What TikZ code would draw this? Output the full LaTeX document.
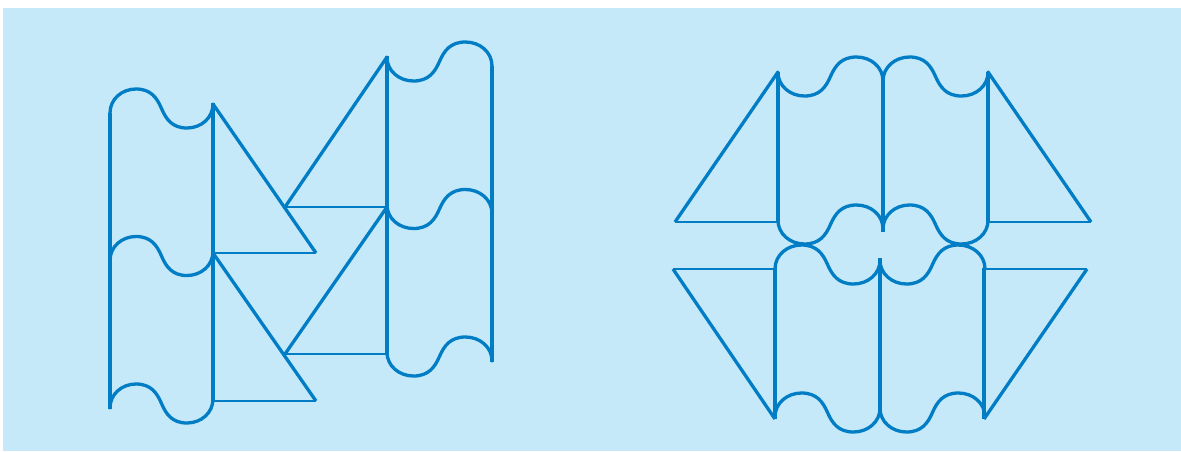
\documentclass[tikz,border=0pt]{standalone}
\definecolor{bgblue}{RGB}{197,233,248}
\definecolor{lineblue}{RGB}{0,125,197}
\tikzset{
  wavestroke/.style={draw=lineblue,line width=3.3pt,line cap=round},
  hypo/.style={draw=lineblue,line width=3.3pt,line join=miter},
  leg/.style={draw=lineblue,line width=2.3pt},
  sharedv/.style={draw=lineblue,line width=4.6pt},
  outerv/.style={draw=lineblue,line width=3.5pt},
  wave/.pic={\path[wavestroke] (0,24) .. controls (0,10) and (12,0) .. (26,0)
     .. controls (41,0) and (47,9) .. (51.5,19.5)
     .. controls (56,30) and (62,39) .. (77,39)
     .. controls (91,39) and (103,29) .. (103,15);}
}
\begin{document}
\begin{tikzpicture}[x=1pt,y=-1pt]
\useasboundingbox (0,0) rectangle (1181,451);
\fill[bgblue] (3,8) rectangle (1181,451);
% ---------- left figure ----------
% left column tiles (normal)
\foreach \yy in {89,236.5,384} {\pic at (110,\yy) {wave};}
\draw[outerv] (110,113) -- (110,409);
\draw[sharedv] (213,103) -- (213,400);
% triangles of left column
\draw[hypo] (213,104) -- (316,253);
\draw[leg] (213,253) -- (316,253);
\draw[hypo] (213,253) -- (316,401);
\draw[leg] (213,401) -- (316,401);
% right column tiles (mirrored)
\foreach \yy in {42,189.5,337} {\pic[xscale=-1.02] at (492,\yy) {wave};}
\draw[sharedv] (387,56) -- (387,353);
\draw[outerv] (492,66) -- (492,362);
% triangles of right column
\draw[hypo] (387,57) -- (285,207);
\draw[leg] (285,207) -- (387,207);
\draw[hypo] (387,207) -- (285,354);
\draw[leg] (285,354) -- (387,354);
% ---------- right figure ----------
% top row
\foreach \yy in {57,205} {
  \pic[xscale=-1.02] at (883,\yy) {wave};
  \pic[xscale=1.02] at (883,\yy) {wave};
}
\draw[sharedv] (778,72) -- (778,221);
\draw[sharedv] (988,72) -- (988,221);
\draw[sharedv] (883,78) -- (883,232);
\draw[hypo] (778,72) -- (675,222);
\draw[leg] (675,222) -- (778,222);
\draw[hypo] (988,72) -- (1091,222);
\draw[leg] (988,222) -- (1091,222);
% bottom row
\foreach \yy in {245,393} {
  \pic[xscale=1.02] at (775,\yy) {wave};
  \pic[xscale=-1.02] at (985,\yy) {wave};
}
\draw[sharedv] (775,268) -- (775,419);
\draw[sharedv] (984,268) -- (984,419);
\draw[sharedv] (880,258) -- (880,410);
\draw[leg] (673,269) -- (775,269);
\draw[hypo] (673,269) -- (775,419);
\draw[leg] (984,269) -- (1087,269);
\draw[hypo] (1087,269) -- (984,419);
\end{tikzpicture}
\end{document}
